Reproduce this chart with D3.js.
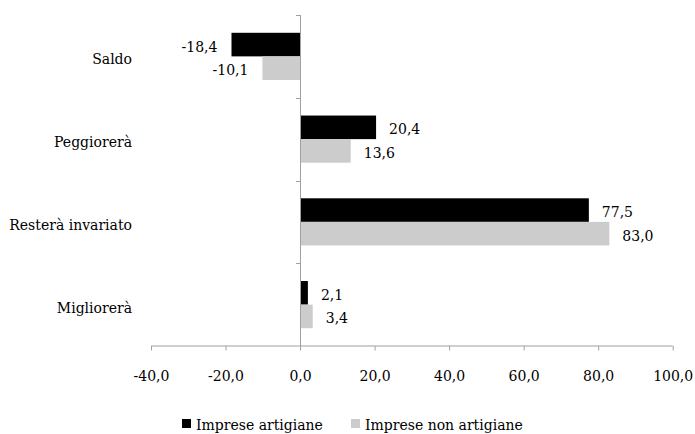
<!DOCTYPE html>
<html>
<head>
<meta charset="utf-8">
<script src="https://cdn.jsdelivr.net/npm/d3@7"></script>
<style>
  html, body { margin: 0; padding: 0; background: #fff; }
  svg { display: block; }
  text { font-family: "DejaVu Serif", serif; fill: #000; }
</style>
</head>
<body>
<svg id="chart" width="695" height="434"></svg>
<script>
// Categories, top to bottom
const categories = ["Saldo", "Peggiorerà", "Resterà invariato", "Migliorerà"];
// Series names and their values per category
const seriesNames = ["Imprese artigiane", "Imprese non artigiane"];
const artigiane = [-18.4, 20.4, 77.5, 2.1];
const nonArtigiane = [-10.1, 13.6, 83.0, 3.4];
const xTicks = [-40, -20, 0, 20, 40, 60, 80, 100];
const colors = ["#000000", "#cccccc"];

const seriesValues = [artigiane, nonArtigiane];
const fmt = v => v.toFixed(1).replace(".", ",");

const svg = d3.select("#chart");
const axisColor = "#a0a0a0";

const x = d3.scaleLinear().domain([-40, 100]).range([151, 672.7]);
const y = d3.scaleBand().domain(categories).range([15, 346]).padding(0);
const inner = d3.scaleBand().domain(seriesNames)
  .range([y.bandwidth() * 0.215, y.bandwidth() * 0.785]).padding(0);

// Bars
const rows = svg.append("g").selectAll("g")
  .data(categories)
  .join("g")
  .attr("transform", d => `translate(0,${y(d)})`);

seriesNames.forEach((name, si) => {
  rows.append("rect")
    .attr("x", (d, i) => x(Math.min(0, seriesValues[si][i])))
    .attr("y", inner(name))
    .attr("width", (d, i) => Math.abs(x(seriesValues[si][i]) - x(0)))
    .attr("height", inner.bandwidth())
    .attr("fill", colors[si]);

  rows.append("text")
    .attr("x", (d, i) => {
      const v = seriesValues[si][i];
      return v < 0 ? x(v) - 14 : x(v) + 13;
    })
    .attr("y", inner(name) + inner.bandwidth() / 2 + 7)
    .attr("text-anchor", (d, i) => seriesValues[si][i] < 0 ? "end" : "start")
    .attr("font-size", 14)
    .text((d, i) => fmt(seriesValues[si][i]));
});

// Horizontal axis
const xAxis = svg.append("g")
  .attr("transform", "translate(0,345.5)")
  .call(d3.axisBottom(x).tickValues(xTicks).tickSize(5).tickSizeOuter(0).tickFormat(fmt));
xAxis.select(".domain").attr("stroke", axisColor).attr("d", `M${x(-40)},0.5H${x(100)}`);
xAxis.selectAll(".tick line").attr("stroke", axisColor).attr("y1", 0.5);
xAxis.selectAll(".tick text")
  .attr("font-family", "DejaVu Serif, serif")
  .attr("font-size", 14)
  .attr("fill", "#000")
  .attr("y", 35)
  .attr("dy", 0);

// Vertical axis through zero with ticks at category boundaries
const bounds = categories.map(c => y(c)).concat([y.range()[1]]);
const yAxis = svg.append("g");
yAxis.append("line")
  .attr("x1", Math.round(x(0)) + 0.5).attr("x2", Math.round(x(0)) + 0.5)
  .attr("y1", y.range()[0]).attr("y2", y.range()[1])
  .attr("stroke", axisColor);
yAxis.selectAll(".yt").data(bounds.slice(0, -1)).join("line")
  .attr("class", "yt")
  .attr("x1", Math.round(x(0)) - 4).attr("x2", Math.round(x(0)) + 0.5)
  .attr("y1", d => Math.round(d) + 0.5).attr("y2", d => Math.round(d) + 0.5)
  .attr("stroke", axisColor);

// Category labels
svg.append("g").selectAll("text")
  .data(categories)
  .join("text")
  .attr("x", 132)
  .attr("y", d => y(d) + y.bandwidth() / 2 + 8)
  .attr("text-anchor", "end")
  .attr("font-size", 14)
  .text(d => d);

// Legend
const legendX = [182, 351];
const legend = svg.append("g").selectAll("g")
  .data(seriesNames)
  .join("g")
  .attr("transform", (d, i) => `translate(${legendX[i]},0)`);
legend.append("rect")
  .attr("x", 0).attr("y", 419).attr("width", 9).attr("height", 9)
  .attr("fill", (d, i) => colors[i]);
legend.append("text")
  .attr("x", 14).attr("y", 430)
  .attr("font-size", 14)
  .text(d => d);
</script>
</body>
</html>
